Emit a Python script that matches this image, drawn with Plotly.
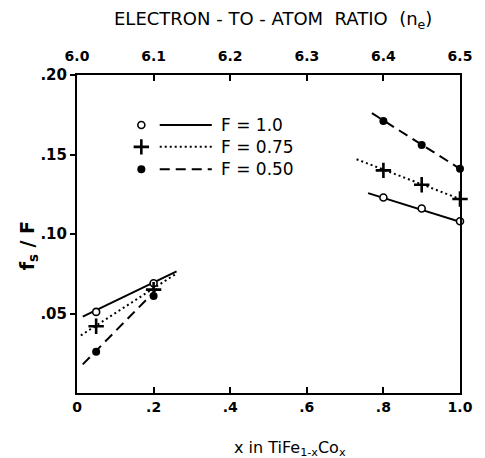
import plotly.graph_objects as go

# ---- data ----
x_comp = [0.05, 0.2, 0.8, 0.9, 1.0]          # x in TiFe(1-x)Co(x)
fs_F_100 = [0.051, 0.069, 0.123, 0.116, 0.108]  # F = 1.0
fs_F_075 = [0.042, 0.065, 0.140, 0.131, 0.122]  # F = 0.75
fs_F_050 = [0.026, 0.061, 0.171, 0.156, 0.141]  # F = 0.50

# fitted straight lines (end points) for each branch
fit_left_x_100 = [0.015, 0.26]
fit_left_y_100 = [0.048, 0.0765]
fit_left_x_075 = [0.01, 0.26]
fit_left_y_075 = [0.0362, 0.0752]
fit_left_x_050 = [0.015, 0.215]
fit_left_y_050 = [0.018, 0.067]

fit_right_x_100 = [0.76, 1.0]
fit_right_y_100 = [0.1257, 0.1077]
fit_right_x_075 = [0.73, 1.0]
fit_right_y_075 = [0.147, 0.122]
fit_right_x_050 = [0.77, 1.0]
fit_right_y_050 = [0.176, 0.141]

x_ticks = [0, 0.2, 0.4, 0.6, 0.8, 1.0]
x_tick_text = ["0", ".2", ".4", ".6", ".8", "1.0"]
ne_ticks = [6.0, 6.1, 6.2, 6.3, 6.4, 6.5]
ne_tick_text = ["6.0", "6.1", "6.2", "6.3", "6.4", "6.5"]
y_ticks = [0.05, 0.10, 0.15, 0.20]
y_tick_text = [".05", ".10", ".15", ".20"]
legend_labels = ["F = 1.0", "F = 0.75", "F = 0.50"]

FONT = "DejaVu Sans"
BLACK = "black"

fig = go.Figure()

line_styles = {"100": "solid", "075": "2px,3px", "050": "10px,6px"}
fits = [
    (fit_left_x_100, fit_left_y_100, "100"), (fit_right_x_100, fit_right_y_100, "100"),
    (fit_left_x_075, fit_left_y_075, "075"), (fit_right_x_075, fit_right_y_075, "075"),
    (fit_left_x_050, fit_left_y_050, "050"), (fit_right_x_050, fit_right_y_050, "050"),
]
for fx, fy, key in fits:
    fig.add_trace(go.Scatter(x=fx, y=fy, mode="lines", cliponaxis=False,
                             line=dict(color=BLACK, width=2, dash=line_styles[key]),
                             showlegend=False, hoverinfo="skip"))

marker_open = dict(symbol="circle", size=7, color="white", line=dict(color=BLACK, width=1.6))
marker_plus = dict(symbol="cross-thin", size=11, color=BLACK, line=dict(color=BLACK, width=2.6))
marker_fill = dict(symbol="circle", size=8, color=BLACK, line=dict(color=BLACK, width=0))

fig.add_trace(go.Scatter(x=x_comp, y=fs_F_100, mode="markers", marker=marker_open,
                         cliponaxis=False, showlegend=False))
fig.add_trace(go.Scatter(x=x_comp, y=fs_F_075, mode="markers", marker=marker_plus,
                         cliponaxis=False, showlegend=False))
fig.add_trace(go.Scatter(x=x_comp, y=fs_F_050, mode="markers", marker=marker_fill,
                         cliponaxis=False, showlegend=False))

# top axis carrier (electron-to-atom ratio)
fig.add_trace(go.Scatter(x=[ne_ticks[0], ne_ticks[-1]], y=[None, None], xaxis="x2", yaxis="y",
                         mode="lines", showlegend=False, hoverinfo="skip"))

# hand-drawn style legend on an overlay axis spanning the plot area
leg_y = [0.843, 0.774, 0.704]
leg_markers = [marker_open, marker_plus, marker_fill]
leg_dash = ["solid", "2px,3px", "10px,6px"]
for yy, mk, dsh, lab in zip(leg_y, leg_markers, leg_dash, legend_labels):
    fig.add_trace(go.Scatter(x=[0.216, 0.352], y=[yy, yy], xaxis="x3", yaxis="y3", mode="lines",
                             line=dict(color=BLACK, width=2, dash=dsh), showlegend=False, hoverinfo="skip"))
    fig.add_trace(go.Scatter(x=[0.168], y=[yy], xaxis="x3", yaxis="y3", mode="markers",
                             marker=mk, showlegend=False, hoverinfo="skip"))
    fig.add_annotation(x=0.372, y=yy, xref="x3", yref="y3", text=lab, showarrow=False,
                       xanchor="left", yanchor="middle", font=dict(family=FONT, size=17, color=BLACK))

axis_font = dict(family=FONT, size=14, color=BLACK, weight="bold")

fig.update_layout(
    width=485, height=458,
    margin=dict(l=77, r=12, t=75, b=65),
    paper_bgcolor="white", plot_bgcolor="white",
    xaxis=dict(range=[0, 1], tickvals=x_ticks, ticktext=x_tick_text, ticks="inside", ticklen=6,
               tickwidth=2, tickcolor=BLACK, showline=True, linewidth=2, linecolor=BLACK,
               showgrid=False, zeroline=False, tickfont=axis_font),
    xaxis2=dict(range=[6.0, 6.5], tickvals=ne_ticks, ticktext=ne_tick_text, overlaying="x",
                side="top", anchor="y", ticks="inside", ticklen=6, tickwidth=2, tickcolor=BLACK,
                showline=True, linewidth=2, linecolor=BLACK, showgrid=False, zeroline=False,
                tickfont=axis_font, ticklabelstandoff=6),
    yaxis=dict(range=[0, 0.2], tickvals=y_ticks, ticktext=y_tick_text, ticks="outside", ticklen=5,
               tickwidth=2, tickcolor=BLACK, showline=True, linewidth=2, linecolor=BLACK, mirror=True,
               showgrid=False, zeroline=False, tickfont=dict(family=FONT, size=15, color=BLACK, weight="bold")),
    xaxis3=dict(range=[0, 1], overlaying="x", visible=False, anchor="y3"),
    yaxis3=dict(range=[0, 1], overlaying="y", visible=False, anchor="x3"),
)

fig.add_annotation(x=0.511, y=1.173, xref="paper", yref="paper", showarrow=False,
                   xanchor="center", yanchor="middle",
                   text="ELECTRON - TO - ATOM  RATIO  (n<sub>e</sub>)",
                   font=dict(family=FONT, size=18, color=BLACK))
fig.add_annotation(x=0.555, y=-0.173, xref="paper", yref="paper", showarrow=False,
                   xanchor="center", yanchor="middle",
                   text="x in TiFe<sub>1-x</sub>Co<sub>x</sub>",
                   font=dict(family=FONT, size=16, color=BLACK))
fig.add_annotation(x=-0.1275, y=0.462, xref="paper", yref="paper", showarrow=False, textangle=-90,
                   xanchor="center", yanchor="middle",
                   text="f<sub>s</sub> / F",
                   font=dict(family=FONT, size=19, color=BLACK, weight="bold"))

fig.write_html("out.html")
